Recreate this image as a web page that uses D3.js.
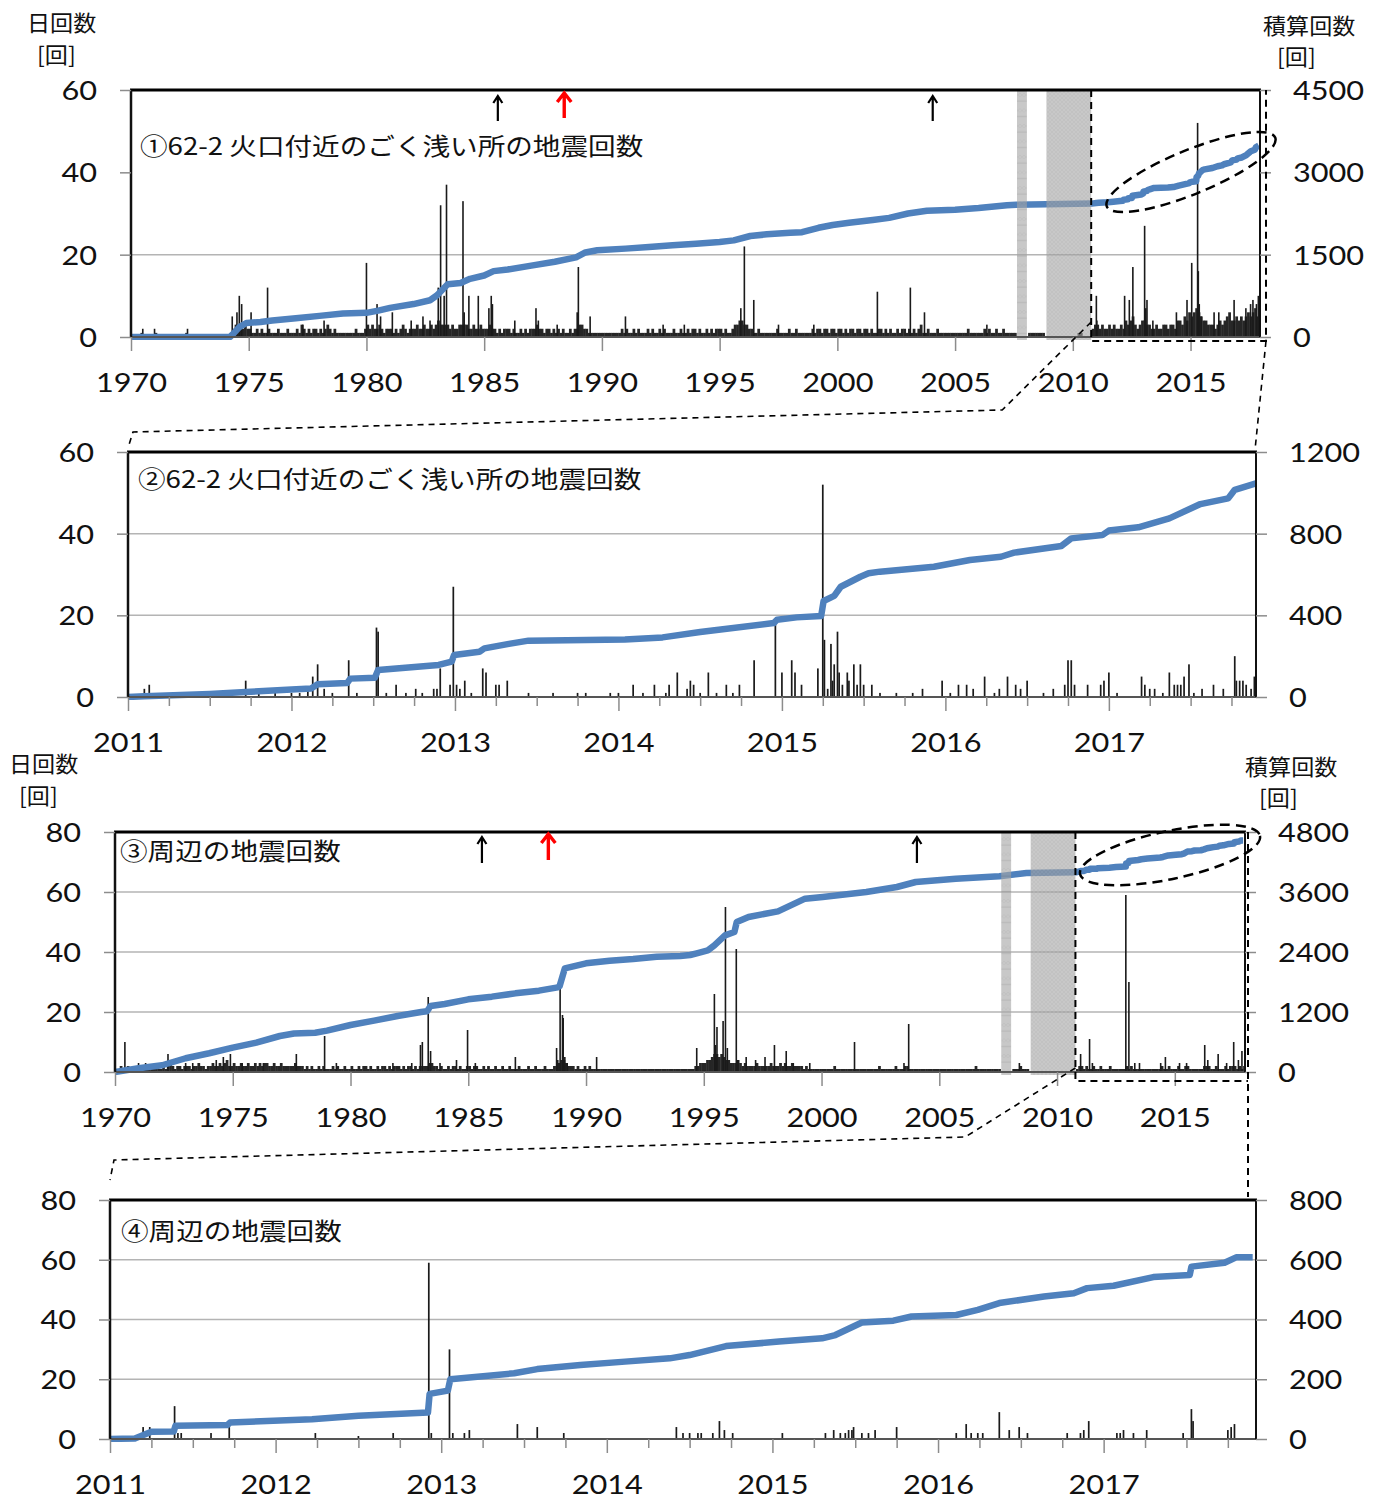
<!DOCTYPE html>
<html><head><meta charset="utf-8">
<script src="https://cdnjs.cloudflare.com/ajax/libs/d3/7.8.5/d3.min.js"></script>
<style>body{margin:0;background:#fff}svg{display:block}</style>
</head><body>
<svg id="c" width="1383" height="1499"></svg>
<script>
// ---------------- DATA ----------------
const longYearTicks = [1970,1975,1980,1985,1990,1995,2000,2005,2010,2015];
const shortYearTicks = [2011,2012,2013,2014,2015,2016,2017];
const p1LeftTicks = [0,20,40,60], p1RightTicks = [0,1500,3000,4500];
const p2LeftTicks = [0,20,40,60], p2RightTicks = [0,400,800,1200];
const p3LeftTicks = [0,20,40,60,80], p3RightTicks = [0,1200,2400,3600,4800];
const p4LeftTicks = [0,20,40,60,80], p4RightTicks = [0,200,400,600,800];

const titles = ["①62-2 火口付近のごく浅い所の地震回数","②62-2 火口付近のごく浅い所の地震回数","③周辺の地震回数","④周辺の地震回数"];
const leftUnit = ["日回数","[回]"], rightUnit = ["積算回数","[回]"];

// shaded (no-data) periods and start of the enlarged period
const shadePeriods = [[2007.63,2008.05],[2008.88,2010.78]];
const zoomStart = 2010.78;
const blackArrowYears = [1985.58, 2004.05];
const redArrowYears = [1988.4];

// Panel 1: daily counts, max per 0.1-year bin from 1970.0 (10 per year)
const p1Bins = [
0,0,0,0,1,0,0,0,0,0, 1,0,0,0,0,0,0,0,0,0, 0,0,0,1,0,0,0,0,0,0, 0,0,0,0,0,0,0,0,0,0,
0,0,0,2,3,2,3,2,3,2, 2,1,1,2,1,2,1,1,2,1, 1,1,2,1,1,1,2,1,1,1, 2,1,3,2,1,2,1,2,2,1,
2,1,2,3,2,1,2,1,1,1, 1,1,1,1,1,2,1,1,1,2, 3,2,3,2,2,3,2,1,2,2, 2,1,2,1,2,3,2,1,2,2,
2,3,2,2,3,2,2,3,2,3, 4,3,3,3,3,2,3,2,2,3, 3,3,3,2,2,3,2,2,3,2, 2,2,3,2,2,1,2,1,2,2,
2,1,2,1,1,2,1,2,1,2, 2,2,3,2,2,1,2,2,1,2, 1,2,1,2,1,1,2,1,2,2, 3,3,2,2,1,1,1,1,1,1,
1,1,1,1,1,1,1,1,2,1, 2,1,1,2,1,2,1,1,1,2, 1,2,1,1,2,1,2,1,1,1, 2,1,1,2,1,1,2,1,2,2,
1,2,1,1,2,1,2,1,2,2, 2,1,2,1,1,2,3,3,4,4, 3,3,2,2,1,1,2,1,1,1, 1,1,1,1,2,1,1,1,1,2,
1,1,2,1,1,1,1,1,1,2, 1,2,2,1,2,2,1,2,2,1, 2,2,1,2,1,2,2,1,2,2, 1,2,2,1,2,1,1,2,2,1,
2,1,2,1,1,2,1,2,2,1, 2,1,2,1,2,3,1,1,2,1, 1,1,2,1,1,1,1,1,1,1, 1,1,1,1,1,2,1,1,1,1,
1,1,2,1,2,1,1,2,1,1, 2,1,1,1,1,1,0,0,0,0, 0,1,1,1,1,1,1,1,0,0, 0,0,0,0,0,0,0,0,0,0,
0,0,1,1,0,0,0,0,2,3, 3,2,3,2,2,3,2,3,2,2, 3,2,4,3,4,5,3,2,3,4, 4,3,3,2,2,3,2,2,3,3,
2,3,3,2,4,4,3,5,4,6, 5,6,7,6,5,4,4,3,3,3, 2,3,4,3,4,5,6,4,4,5, 4,5,4,5,6,5,6,7,5,6
];
const p1Spikes = [
[1970.5,2],[1971.0,2],[1972.4,2],[1974.3,5],[1974.5,6],[1974.6,10],[1974.7,8],[1975.1,6],[1975.8,12],
[1977.3,3],[1978.2,4],[1980.0,18],[1980.45,8],[1980.6,5],[1981.1,6],[1981.9,4],[1982.4,5],[1982.7,4],
[1983.05,12],[1983.15,32],[1983.3,10],[1983.4,37],[1984.1,33],[1984.15,6],[1984.35,10],[1984.75,10],
[1985.2,7],[1985.3,10],[1985.35,8],[1986.3,4],[1987.2,7],[1987.3,4],[1988.1,3],[1988.95,6],[1989.0,17],
[1989.5,5],[1991.0,5],[1992.6,3],[1993.5,3],[1995.9,7],[1996.05,22],[1996.45,9],[1997.5,3],[1999.0,3],
[2001.7,11],[2003.1,12],[2003.7,6],[2006.35,3],
[2011.0,10],[2011.02,4],[2012.2,10],[2012.4,9],[2012.55,17],[2013.05,27],[2013.1,7],[2013.15,9],
[2013.4,4],[2014.4,6],[2014.85,9],[2015.05,18],[2015.3,52],[2015.33,16],[2015.37,8],[2015.45,5],
[2016.0,6],[2016.2,6],[2016.85,9],[2017.35,7],[2017.55,8],[2017.65,9],[2017.8,8],[2017.88,10]
];
// Panel 1 cumulative count (right axis), 1970-2011
const p1Cum = [
[1970,0],[1974.2,0],[1974.35,60],[1974.6,180],[1974.9,255],[1975.5,275],[1976,300],[1977,340],[1978,385],
[1979,430],[1980,440],[1980.5,480],[1981,530],[1982,600],[1982.7,670],[1983.0,760],[1983.45,960],[1984.0,985],
[1984.4,1060],[1985.0,1120],[1985.4,1200],[1986,1230],[1987,1300],[1988,1370],[1988.9,1450],[1989.3,1540],
[1989.8,1580],[1991,1610],[1992,1640],[1993,1670],[1994,1700],[1995,1730],[1995.6,1760],[1996.3,1840],
[1997,1870],[1998,1900],[1998.5,1910],[1999.2,1990],[1999.8,2040],[2000.5,2080],[2001.5,2130],[2002.2,2170],
[2003,2250],[2003.8,2300],[2005,2320],[2006,2350],[2007.2,2400],[2007.6,2410],[2010.8,2430],[2011,2440]
];

// Panel 2: daily counts 2011-2017
const p2Events = [
[2011.10,2],[2011.13,3],[2011.35,1],[2011.37,1],[2011.55,1],[2011.72,4],[2011.8,1],[2011.9,1],[2012.0,1],
[2012.05,1],[2012.1,2],[2012.13,5],[2012.16,8],[2012.2,2],[2012.25,1],[2012.35,9],[2012.4,1],[2012.52,17],
[2012.53,16],[2012.58,1],[2012.64,3],[2012.7,1],[2012.76,2],[2012.8,1],[2012.87,2],[2012.89,2],[2012.91,7],
[2012.97,3],[2012.99,27],[2013.01,3],[2013.03,2],[2013.06,4],[2013.1,1],[2013.17,7],[2013.19,6],[2013.25,3],
[2013.27,3],[2013.32,4],[2013.45,1],[2013.6,1],[2013.75,1],[2013.8,1],[2013.95,1],[2014.0,1],[2014.09,3],
[2014.15,1],[2014.22,3],[2014.29,1],[2014.31,3],[2014.36,6],[2014.42,2],[2014.44,4],[2014.46,3],[2014.5,1],
[2014.55,6],[2014.6,1],[2014.66,3],[2014.7,1],[2014.74,3],[2014.83,9],[2014.96,18],[2015.0,6],[2015.06,9],
[2015.08,6],[2015.12,3],[2015.22,7],[2015.25,52],[2015.26,14],[2015.28,2],[2015.3,13],[2015.31,4],[2015.32,8],
[2015.34,16],[2015.35,6],[2015.37,3],[2015.40,6],[2015.41,4],[2015.44,8],[2015.46,3],[2015.48,8],[2015.5,3],
[2015.55,3],[2015.6,1],[2015.7,1],[2015.8,1],[2015.86,2],[2015.98,4],[2016.03,1],[2016.08,3],[2016.13,3],
[2016.17,2],[2016.24,5],[2016.3,1],[2016.33,2],[2016.38,5],[2016.43,3],[2016.46,2],[2016.5,4],[2016.6,1],
[2016.66,2],[2016.73,3],[2016.75,9],[2016.77,9],[2016.79,3],[2016.87,3],[2016.95,3],[2016.97,4],[2017.0,6],
[2017.05,1],[2017.2,5],[2017.22,3],[2017.25,2],[2017.28,2],[2017.33,1],[2017.37,6],[2017.4,3],[2017.42,3],
[2017.44,3],[2017.46,5],[2017.49,8],[2017.52,1],[2017.57,2],[2017.64,3],[2017.7,2],[2017.77,10],[2017.78,4],
[2017.8,4],[2017.82,4],[2017.84,3],[2017.87,2],[2017.89,5]
];
const p2Cum = [
[2011,0],[2011.1,4],[2011.5,15],[2011.72,24],[2012.0,37],[2012.12,42],[2012.16,62],[2012.34,68],[2012.36,90],
[2012.51,94],[2012.53,132],[2012.9,157],[2012.98,173],[2012.995,206],[2013.15,222],[2013.18,238],[2013.33,260],
[2013.45,276],[2014.04,282],[2014.27,292],[2014.5,318],[2014.95,362],[2014.97,378],[2015.09,390],[2015.24,397],
[2015.255,470],[2015.32,495],[2015.36,540],[2015.48,589],[2015.53,606],[2015.6,614],[2015.93,638],[2016.15,671],
[2016.34,687],[2016.42,707],[2016.71,740],[2016.77,777],[2016.96,793],[2017.0,815],[2017.18,831],[2017.37,875],
[2017.56,945],[2017.73,973],[2017.77,1015],[2017.9,1047]
];

// Panel 3: daily counts, max per 0.1-year bin from 1970.0
const p3Bins = [
1,1,2,1,1,2,1,1,2,1, 2,1,1,2,1,1,2,2,1,1, 2,1,2,3,2,1,2,2,1,2, 2,2,1,2,2,3,2,2,1,2,
2,3,2,2,3,2,3,4,2,2, 3,2,2,3,2,2,3,2,2,3, 2,3,2,3,3,2,2,3,2,2, 3,2,2,2,2,2,3,2,2,2,
1,2,1,2,1,1,2,1,2,1, 1,1,2,1,2,1,1,2,1,1, 2,1,1,2,1,2,2,1,2,1, 1,2,1,2,2,1,2,1,2,2,
2,1,2,1,2,2,1,2,1,2, 2,2,2,3,3,2,2,1,2,1, 1,2,1,2,2,1,2,1,1,2, 2,1,2,2,1,1,2,1,2,1,
1,2,1,1,2,1,1,2,1,1, 1,2,1,1,1,2,1,1,2,1, 1,1,2,1,1,1,2,2,3,4, 4,3,2,2,2,1,2,1,1,2,
1,2,1,1,1,1,1,1,1,1, 1,1,1,1,1,1,1,1,1,1, 1,1,1,1,1,1,1,1,1,1, 1,1,1,1,1,1,1,1,1,1,
1,1,1,1,1,1,2,2,3,3, 3,4,4,5,6,6,5,6,5,4, 4,3,3,3,4,3,2,3,2,2, 2,2,3,2,2,2,2,2,3,2,
2,2,3,2,3,2,2,3,2,2, 2,2,1,2,1,1,1,1,1,1, 1,1,1,1,1,2,1,1,1,1, 1,1,1,1,1,1,1,1,1,1,
1,1,1,1,2,1,1,1,1,1, 1,2,1,1,1,2,2,1,1,1, 1,1,1,1,1,1,1,1,1,1, 1,1,1,1,1,1,1,1,1,1,
1,1,1,1,1,2,1,1,1,1, 1,1,1,1,1,1,0,0,0,0, 0,1,1,1,2,1,1,1,0,0, 0,0,0,0,0,0,0,0,0,0,
0,0,0,0,0,0,0,0,1,2, 2,1,2,1,1,2,1,1,2,1, 1,1,2,1,1,1,1,1,1,2, 1,2,1,1,1,1,1,1,1,1,
1,1,1,1,2,1,1,2,1,1, 1,2,1,1,2,2,1,1,1,1, 1,1,2,2,2,1,1,2,1,1, 1,2,1,2,2,2,1,2,1,2
];
const p3Spikes = [
[1970.42,10],[1971.0,3],[1971.3,3],[1972.25,6],[1973.0,3],[1973.3,3],[1974.3,4],[1974.6,5],[1974.9,6],
[1975.4,3],[1976.3,3],[1977.7,6],[1978.9,12],[1979.4,3],[1981.8,3],[1982.6,3],[1982.97,9],[1983.05,10],
[1983.3,25],[1983.4,7],[1983.8,3],[1984.5,4],[1984.97,14],[1985.3,3],[1987.0,5],[1988.75,8],[1988.8,4],
[1988.9,28],[1989.0,19],[1989.03,18],[1989.1,5],[1989.2,3],[1990.45,5],
[1994.7,8],[1995.45,26],[1995.5,9],[1995.56,15],[1995.82,17],[1995.92,55],[1996.0,8],[1996.38,41],[1996.45,4],
[1996.8,5],[1997.2,4],[1997.6,5],[1998.0,9],[1998.5,7],[1998.8,3],[1999.5,3],[2001.4,10],[2003.5,3],
[2003.7,16],[2008.4,3],
[2011.0,6],[2011.38,11],[2011.5,3],[2012.92,59],[2013.05,30],[2013.3,3],[2013.5,3],[2014.4,3],[2014.6,5],
[2015.2,3],[2015.5,3],[2016.27,9],[2016.4,4],[2016.84,6],[2017.2,3],[2017.5,10],[2017.7,4],[2017.85,7]
];
const p3Cum = [
[1970,0],[1971,75],[1972,135],[1973,275],[1974,375],[1975,487],[1976,587],[1977,720],[1977.6,770],[1978.5,785],
[1979,827],[1980,940],[1981,1027],[1982,1120],[1983,1200],[1983.25,1215],[1983.4,1320],[1984,1360],[1985,1453],
[1986,1507],[1987,1573],[1988,1627],[1988.8,1693],[1988.88,1720],[1989.1,2073],[1990,2173],[1991,2227],
[1992,2260],[1993,2307],[1994,2320],[1994.42,2340],[1994.7,2373],[1995.17,2433],[1995.45,2533],[1995.9,2733],
[1996.3,2800],[1996.4,3000],[1996.9,3100],[1998.15,3213],[1999.3,3467],[2000.05,3500],[2001.9,3600],
[2003.2,3700],[2004.0,3800],[2005.7,3867],[2007.55,3913],[2008.7,3980],[2010.8,3993],[2011,4020]
];

// Panel 4: daily counts 2011-2017
const p4Events = [
[2011.2,4],[2011.24,4],[2011.39,11],[2011.41,2],[2011.43,2],[2011.61,2],[2011.72,4],[2012.24,2],[2012.5,1],
[2012.71,2],[2012.925,59],[2012.94,2],[2013.05,30],[2013.07,2],[2013.14,2],[2013.17,3],[2013.46,5],[2013.58,4],
[2013.74,2],[2014.42,4],[2014.46,2],[2014.5,2],[2014.55,2],[2014.57,2],[2014.64,2],[2014.68,6],[2014.71,3],
[2014.76,2],[2015.06,2],[2015.32,2],[2015.37,3],[2015.41,2],[2015.44,2],[2015.46,3],[2015.48,3],[2015.49,4],
[2015.54,2],[2015.58,2],[2015.62,3],[2015.75,4],[2016.11,2],[2016.17,5],[2016.2,2],[2016.24,2],[2016.27,2],
[2016.37,9],[2016.43,3],[2016.49,4],[2016.54,2],[2016.78,2],[2016.86,2],[2016.88,3],[2016.91,6],[2017.08,2],
[2017.1,2],[2017.12,3],[2017.18,2],[2017.26,3],[2017.48,2],[2017.53,10],[2017.54,6],[2017.75,3],[2017.77,4],
[2017.79,5]
];
const p4Cum = [
[2011,0],[2011.15,2],[2011.25,24],[2011.385,25],[2011.395,44],[2011.71,47],[2011.725,55],[2012.22,66],
[2012.5,78],[2012.92,89],[2012.93,151],[2013.04,162],[2013.055,200],[2013.44,220],[2013.58,234],[2013.84,248],
[2014.11,259],[2014.38,270],[2014.5,281],[2014.72,311],[2015.04,326],[2015.3,337],[2015.38,348],[2015.54,390],
[2015.73,396],[2015.84,410],[2016.11,415],[2016.24,432],[2016.37,455],[2016.64,477],[2016.82,488],[2016.9,505],
[2017.06,513],[2017.3,542],[2017.52,549],[2017.53,577],[2017.73,590],[2017.8,608],[2017.9,608]
];

// ---------------- DRAWING ----------------
const NUM_FONT = "Lato, 'Open Sans', sans-serif";
const JP_FONT = "'Noto Sans CJK JP','Noto Sans CJK SC',sans-serif";
const SXN = 1.18, SXJ = 1.15;
const svg = d3.select("#c");
const defs = svg.append("defs");
const pat = defs.append("pattern").attr("id","hatch").attr("width",4).attr("height",4).attr("patternUnits","userSpaceOnUse");
pat.append("rect").attr("width",4).attr("height",4).attr("fill","#a6a6a6");
pat.append("path").attr("d","M0,0L4,4M4,0L0,4").attr("stroke","#959595").attr("stroke-width",0.6);
const pat2 = defs.append("pattern").attr("id","hatch2").attr("width",4).attr("height",15.5).attr("patternUnits","userSpaceOnUse");
pat2.append("rect").attr("width",4).attr("height",15.5).attr("fill","#a6a6a6");
pat2.append("path").attr("d","M0,0L4,4M4,0L0,4").attr("stroke","#959595").attr("stroke-width",0.6);
pat2.append("line").attr("x1",0).attr("x2",4).attr("y1",8).attr("y2",8).attr("stroke","#8a8a8a").attr("stroke-width",1);

function txt(x, y, s, size, family, sx, anchor, fill) {
  svg.append("g").attr("transform",`translate(${x},${y}) scale(${sx},1)`)
    .append("text").attr("text-anchor",anchor||"start").attr("font-family",family)
    .attr("font-size",size).attr("fill",fill||"#111").text(s);
}

function panel(cfg) {
  const {l,r,t,b} = cfg.box;
  const x = d3.scaleLinear().domain(cfg.xDom).range([l,r]);
  const y = d3.scaleLinear().domain([0,cfg.yMax]).range([b,t]);
  const y2 = d3.scaleLinear().domain([0,cfg.y2Max]).range([b,t]);
  const clipId = "clip"+cfg.id;
  defs.append("clipPath").attr("id",clipId).append("rect").attr("x",l).attr("y",t).attr("width",r-l).attr("height",b-t+3);
  const g = svg.append("g");
  g.selectAll(null).data(cfg.grid).join("line")
    .attr("x1",l).attr("x2",r).attr("y1",d=>y(d)).attr("y2",d=>y(d))
    .attr("stroke","#b4b4b4").attr("stroke-width",1.5);
  const marks = g.append("g").attr("clip-path",`url(#${clipId})`);
  if (cfg.bins) {
    const w = 0.1, bw = x(cfg.xDom[0]+w)-x(cfg.xDom[0]);
    marks.selectAll(null).data(cfg.bins.map((v,i)=>[cfg.xDom[0]+i*w, v]).filter(d=>d[1]>0)).join("rect")
      .attr("x",d=>x(d[0])).attr("width",bw+0.4).attr("y",d=>y(d[1])).attr("height",d=>b-y(d[1]))
      .attr("fill","#262626");
  }
  marks.selectAll(null).data(cfg.spikes).join("rect")
    .attr("x",d=>x(d[0])-cfg.spikeW/2).attr("width",cfg.spikeW)
    .attr("y",d=>y(d[1])).attr("height",d=>b-y(d[1])).attr("fill","#1a1a1a");
  marks.append("path").datum(cfg.cum)
    .attr("d",d3.line().x(d=>x(d[0])).y(d=>y2(d[1])))
    .attr("fill","none").attr("stroke","#4f81bd").attr("stroke-width",6.5).attr("stroke-linejoin","round");
  if (cfg.shades) {
    g.selectAll(null).data(shadePeriods).join("rect")
      .attr("x",d=>x(d[0])).attr("width",d=>x(d[1])-x(d[0]))
      .attr("y",t).attr("height",b-t+3)
      .attr("fill",(d,i)=>i===0?"url(#hatch2)":"url(#hatch)").attr("opacity",0.62);
  }
  // frame
  g.append("line").attr("x1",l).attr("x2",r).attr("y1",b).attr("y2",b).attr("stroke","#555").attr("stroke-width",2);
  g.append("line").attr("x1",l-1).attr("x2",r+1).attr("y1",t).attr("y2",t).attr("stroke","#000").attr("stroke-width",3);
  g.append("line").attr("x1",l).attr("x2",l).attr("y1",t).attr("y2",b).attr("stroke","#111").attr("stroke-width",2.5);
  g.append("line").attr("x1",r).attr("x2",r).attr("y1",t).attr("y2",b).attr("stroke","#111").attr("stroke-width",2);

  // axes
  const fmt = d3.format("d");
  const styleAxis = (sel) => {
    sel.attr("font-family",NUM_FONT).attr("font-size",26);
    sel.select(".domain").remove();
    sel.selectAll(".tick line").attr("stroke","#8c8c8c").attr("stroke-width",1.5);
    sel.selectAll(".tick text").attr("fill","#111");
  };
  if (cfg.minor) {
    const gm = svg.append("g").attr("transform",`translate(0,${b})`)
      .call(d3.axisBottom(x).tickValues(cfg.minor).tickSize(9).tickFormat(""));
    styleAxis(gm);
  }
  const gb = svg.append("g").attr("transform",`translate(0,${b})`)
    .call(d3.axisBottom(x).tickValues(cfg.xTicks).tickSize(14).tickFormat(fmt));
  styleAxis(gb);
  gb.selectAll(".tick text").attr("y",37).attr("dy","0.71em").attr("transform",`scale(${SXN},1)`);
  const gl = svg.append("g").attr("transform",`translate(${l},0)`)
    .call(d3.axisLeft(y).tickValues(cfg.yTicks).tickSize(11).tickFormat(fmt));
  styleAxis(gl);
  gl.selectAll(".tick text").attr("x",-34/SXN).attr("dy","0.36em").attr("transform",`scale(${SXN},1)`);
  const gr = svg.append("g").attr("transform",`translate(${r},0)`)
    .call(d3.axisRight(y2).tickValues(cfg.y2Ticks).tickSize(11).tickFormat(fmt));
  styleAxis(gr);
  gr.selectAll(".tick text").attr("x",33/SXN).attr("dy","0.36em").attr("transform",`scale(${SXN},1)`);

  // title
  txt(cfg.title[0], cfg.title[1], cfg.title[2], 24, JP_FONT, SXJ);

  // arrows
  if (cfg.arrows) {
    const [yTop, yBot] = cfg.arrows;
    blackArrowYears.forEach(yr => {
      const px = x(yr);
      g.append("path").attr("d",`M${px},${yBot}L${px},${yTop+1}M${px-4.5},${yTop+7}L${px},${yTop}L${px+4.5},${yTop+7}`)
        .attr("fill","none").attr("stroke","#000").attr("stroke-width",2.2);
    });
    redArrowYears.forEach(yr => {
      const px = x(yr);
      g.append("path").attr("d",`M${px},${yBot-3}L${px},${yTop-2}M${px-7},${yTop+6}L${px},${yTop-3}L${px+7},${yTop+6}`)
        .attr("fill","none").attr("stroke","#ff0000").attr("stroke-width",3.4);
    });
  }
  return {x, y, y2};
}

const p1CumFull = p1Cum.concat(p2Cum.filter(d=>d[0]>2011).map(d=>[d[0], p1Cum[p1Cum.length-1][1]+d[1]]));
const p3CumFull = p3Cum.concat(p4Cum.filter(d=>d[0]>2011).map(d=>[d[0], p3Cum[p3Cum.length-1][1]+d[1]]));
const quarters = d3.range(2011, 2018, 0.25).filter(v => v % 1 !== 0);

const S1 = panel({id:1, box:{l:131,r:1260,t:90,b:337}, xDom:[1970,2017.95], yMax:60, y2Max:4500,
  yTicks:p1LeftTicks, y2Ticks:p1RightTicks, grid:[20], xTicks:longYearTicks,
  bins:p1Bins, spikes:p1Spikes, spikeW:1.6, cum:p1CumFull, shades:true, arrows:[96,121],
  title:[140,155,titles[0]]});
const S2 = panel({id:2, box:{l:128,r:1256,t:452,b:697}, xDom:[2011,2017.9], yMax:60, y2Max:1200,
  yTicks:p2LeftTicks, y2Ticks:p2RightTicks, grid:[20,40], xTicks:shortYearTicks, minor:quarters,
  spikes:p2Events, spikeW:1.7, cum:p2Cum, title:[138,488,titles[1]]});
const S3 = panel({id:3, box:{l:115,r:1245,t:832,b:1072}, xDom:[1970,2017.98], yMax:80, y2Max:4800,
  yTicks:p3LeftTicks, y2Ticks:p3RightTicks, grid:[20,40,60], xTicks:longYearTicks,
  bins:p3Bins, spikes:p3Spikes, spikeW:1.6, cum:p3CumFull, shades:true, arrows:[837,863],
  title:[120,860,titles[2]]});
const S4 = panel({id:4, box:{l:110,r:1256,t:1200,b:1439}, xDom:[2011,2017.92], yMax:80, y2Max:800,
  yTicks:p4LeftTicks, y2Ticks:p4RightTicks, grid:[20,40,60], xTicks:shortYearTicks, minor:quarters,
  spikes:p4Events, spikeW:1.7, cum:p4Cum, title:[121,1240,titles[3]]});

// unit labels
txt(27,31,leftUnit[0],22,JP_FONT,1.05); txt(37,63,leftUnit[1],22,JP_FONT,1.05);
txt(1263,34,rightUnit[0],22,JP_FONT,1.05); txt(1277,65,rightUnit[1],22,JP_FONT,1.05);
txt(9,772,leftUnit[0],22,JP_FONT,1.05); txt(19,804,leftUnit[1],22,JP_FONT,1.05);
txt(1245,775,rightUnit[0],22,JP_FONT,1.05); txt(1259,806,rightUnit[1],22,JP_FONT,1.05);

// dashed annotations (zoom frames, connectors, ellipses)
const dash = (d, w, da) => svg.append("path").attr("d",d).attr("fill","none").attr("stroke","#000")
  .attr("stroke-width",w).attr("stroke-dasharray",da);
{
  const zx = S1.x(zoomStart), R = 1266, B = 341;
  dash(`M${zx},90L${zx},${B}L${R},${B}L${R},90`, 2, "7,5");
  dash(`M${zx},322L${S1.x(2007.0)},410L133,432L128,448`, 1.6, "6,5");
  dash(`M${R},${B}L1255,450`, 1.6, "6,5");
  svg.append("ellipse").attr("cx",1191).attr("cy",172).attr("rx",91).attr("ry",22)
    .attr("transform","rotate(-22.3,1191,172)").attr("fill","none").attr("stroke","#000")
    .attr("stroke-width",2.5).attr("stroke-dasharray","10,6");
}
{
  const zx = S3.x(zoomStart), R = 1248, B = 1081;
  dash(`M${zx},832L${zx},${B}L${R},${B}`, 2, "7,5");
  dash(`M${R},832L${R},1197`, 2, "7,5");
  dash(`M${zx},1068L${S3.x(2006.1)},1137L114,1160L110,1180`, 1.6, "6,5");
  svg.append("ellipse").attr("cx",1170).attr("cy",855).attr("rx",92).attr("ry",24)
    .attr("transform","rotate(-12,1170,855)").attr("fill","none").attr("stroke","#000")
    .attr("stroke-width",2.5).attr("stroke-dasharray","10,6");
}
</script>
</body></html>
